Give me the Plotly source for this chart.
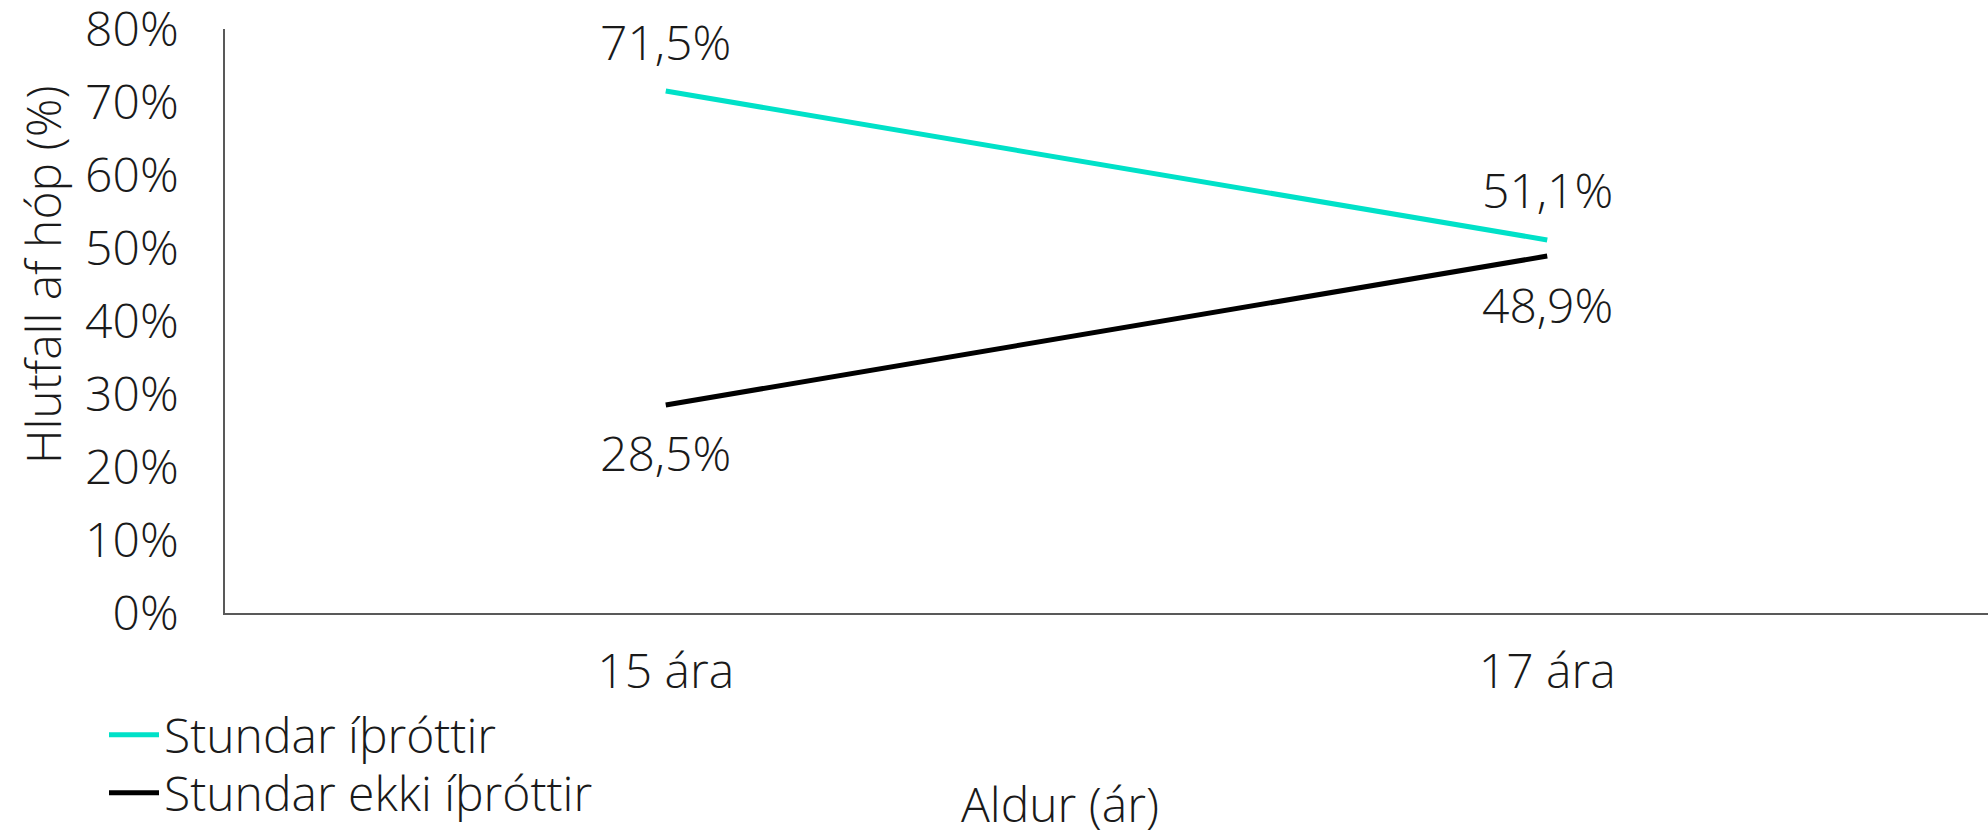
import plotly.graph_objects as go

# Age groups and share of each group (%)
ages = ["15 ára", "17 ára"]
sport = [71.5, 51.1]
no_sport = [28.5, 48.9]
series_names = ["Stundar íþróttir", "Stundar ekki íþróttir"]
y_ticks = [0, 10, 20, 30, 40, 50, 60, 70, 80]
y_tick_labels = [f"{t}%" for t in y_ticks]

FONT = "Open Sans, Roboto, sans-serif"
FS = 48
TEXT = "#1a1a1a"
CYAN = "#00E1C8"
AXIS = "#595959"
font = dict(family=FONT, size=FS, color=TEXT, weight=300)

fig = go.Figure()
fig.add_trace(go.Scatter(x=ages, y=sport, mode="lines", name=series_names[0],
                         line=dict(color=CYAN, width=5), legend="legend"))
fig.add_trace(go.Scatter(x=ages, y=no_sport, mode="lines", name=series_names[1],
                         line=dict(color="#000000", width=5), legend="legend2"))


def fmt(v):
    return f"{v:.1f}%".replace(".", ",")


# value labels: upper series above its points, lower series below
for xs, ys, upper in [(ages, sport, True), (ages, no_sport, False)]:
    for xv, yv in zip(xs, ys):
        fig.add_annotation(x=xv, y=yv, text=fmt(yv), showarrow=False,
                           yshift=50 if upper else -48, font=font)

# axis titles
fig.add_annotation(text="Hlutfall af hóp (%)", xref="paper", yref="paper",
                   x=-(225 - 42) / 1763, y=(613 - 275) / 584, textangle=-90,
                   showarrow=False, xanchor="center", yanchor="middle", font=font)
fig.add_annotation(text="Aldur (ár)", xref="paper", yref="paper",
                   x=(1060 - 225) / 1763, y=-(803 - 613) / 584,
                   showarrow=False, xanchor="center", yanchor="middle", font=font)

# one legend box per series so the two rows can sit closer together
legend_common = dict(orientation="v", xref="container", yref="container",
                     xanchor="left", yanchor="middle", bgcolor="rgba(0,0,0,0)",
                     itemwidth=50, font=font)

fig.update_layout(
    width=1988, height=836,
    margin=dict(l=225, r=0, t=29, b=223, autoexpand=False),
    paper_bgcolor="white", plot_bgcolor="white",
    font=font,
    showlegend=True,
    legend=dict(x=104 / 1988, y=1 - 735 / 836, **legend_common),
    legend2=dict(x=104 / 1988, y=1 - 793 / 836, **legend_common),
    xaxis=dict(range=[-0.5, 1.5], showline=True, linecolor=AXIS, linewidth=1.5,
               showgrid=False, zeroline=False, ticks="", ticklabelstandoff=16,
               automargin=False),
    yaxis=dict(range=[0, 80], tickmode="array", tickvals=y_ticks,
               ticktext=y_tick_labels, showline=True,
               linecolor=AXIS, linewidth=1.5, showgrid=False, zeroline=False,
               ticks="", ticklabelstandoff=35, automargin=False,
               ticklabeloverflow="allow"),
)

fig.write_html("out.html")
